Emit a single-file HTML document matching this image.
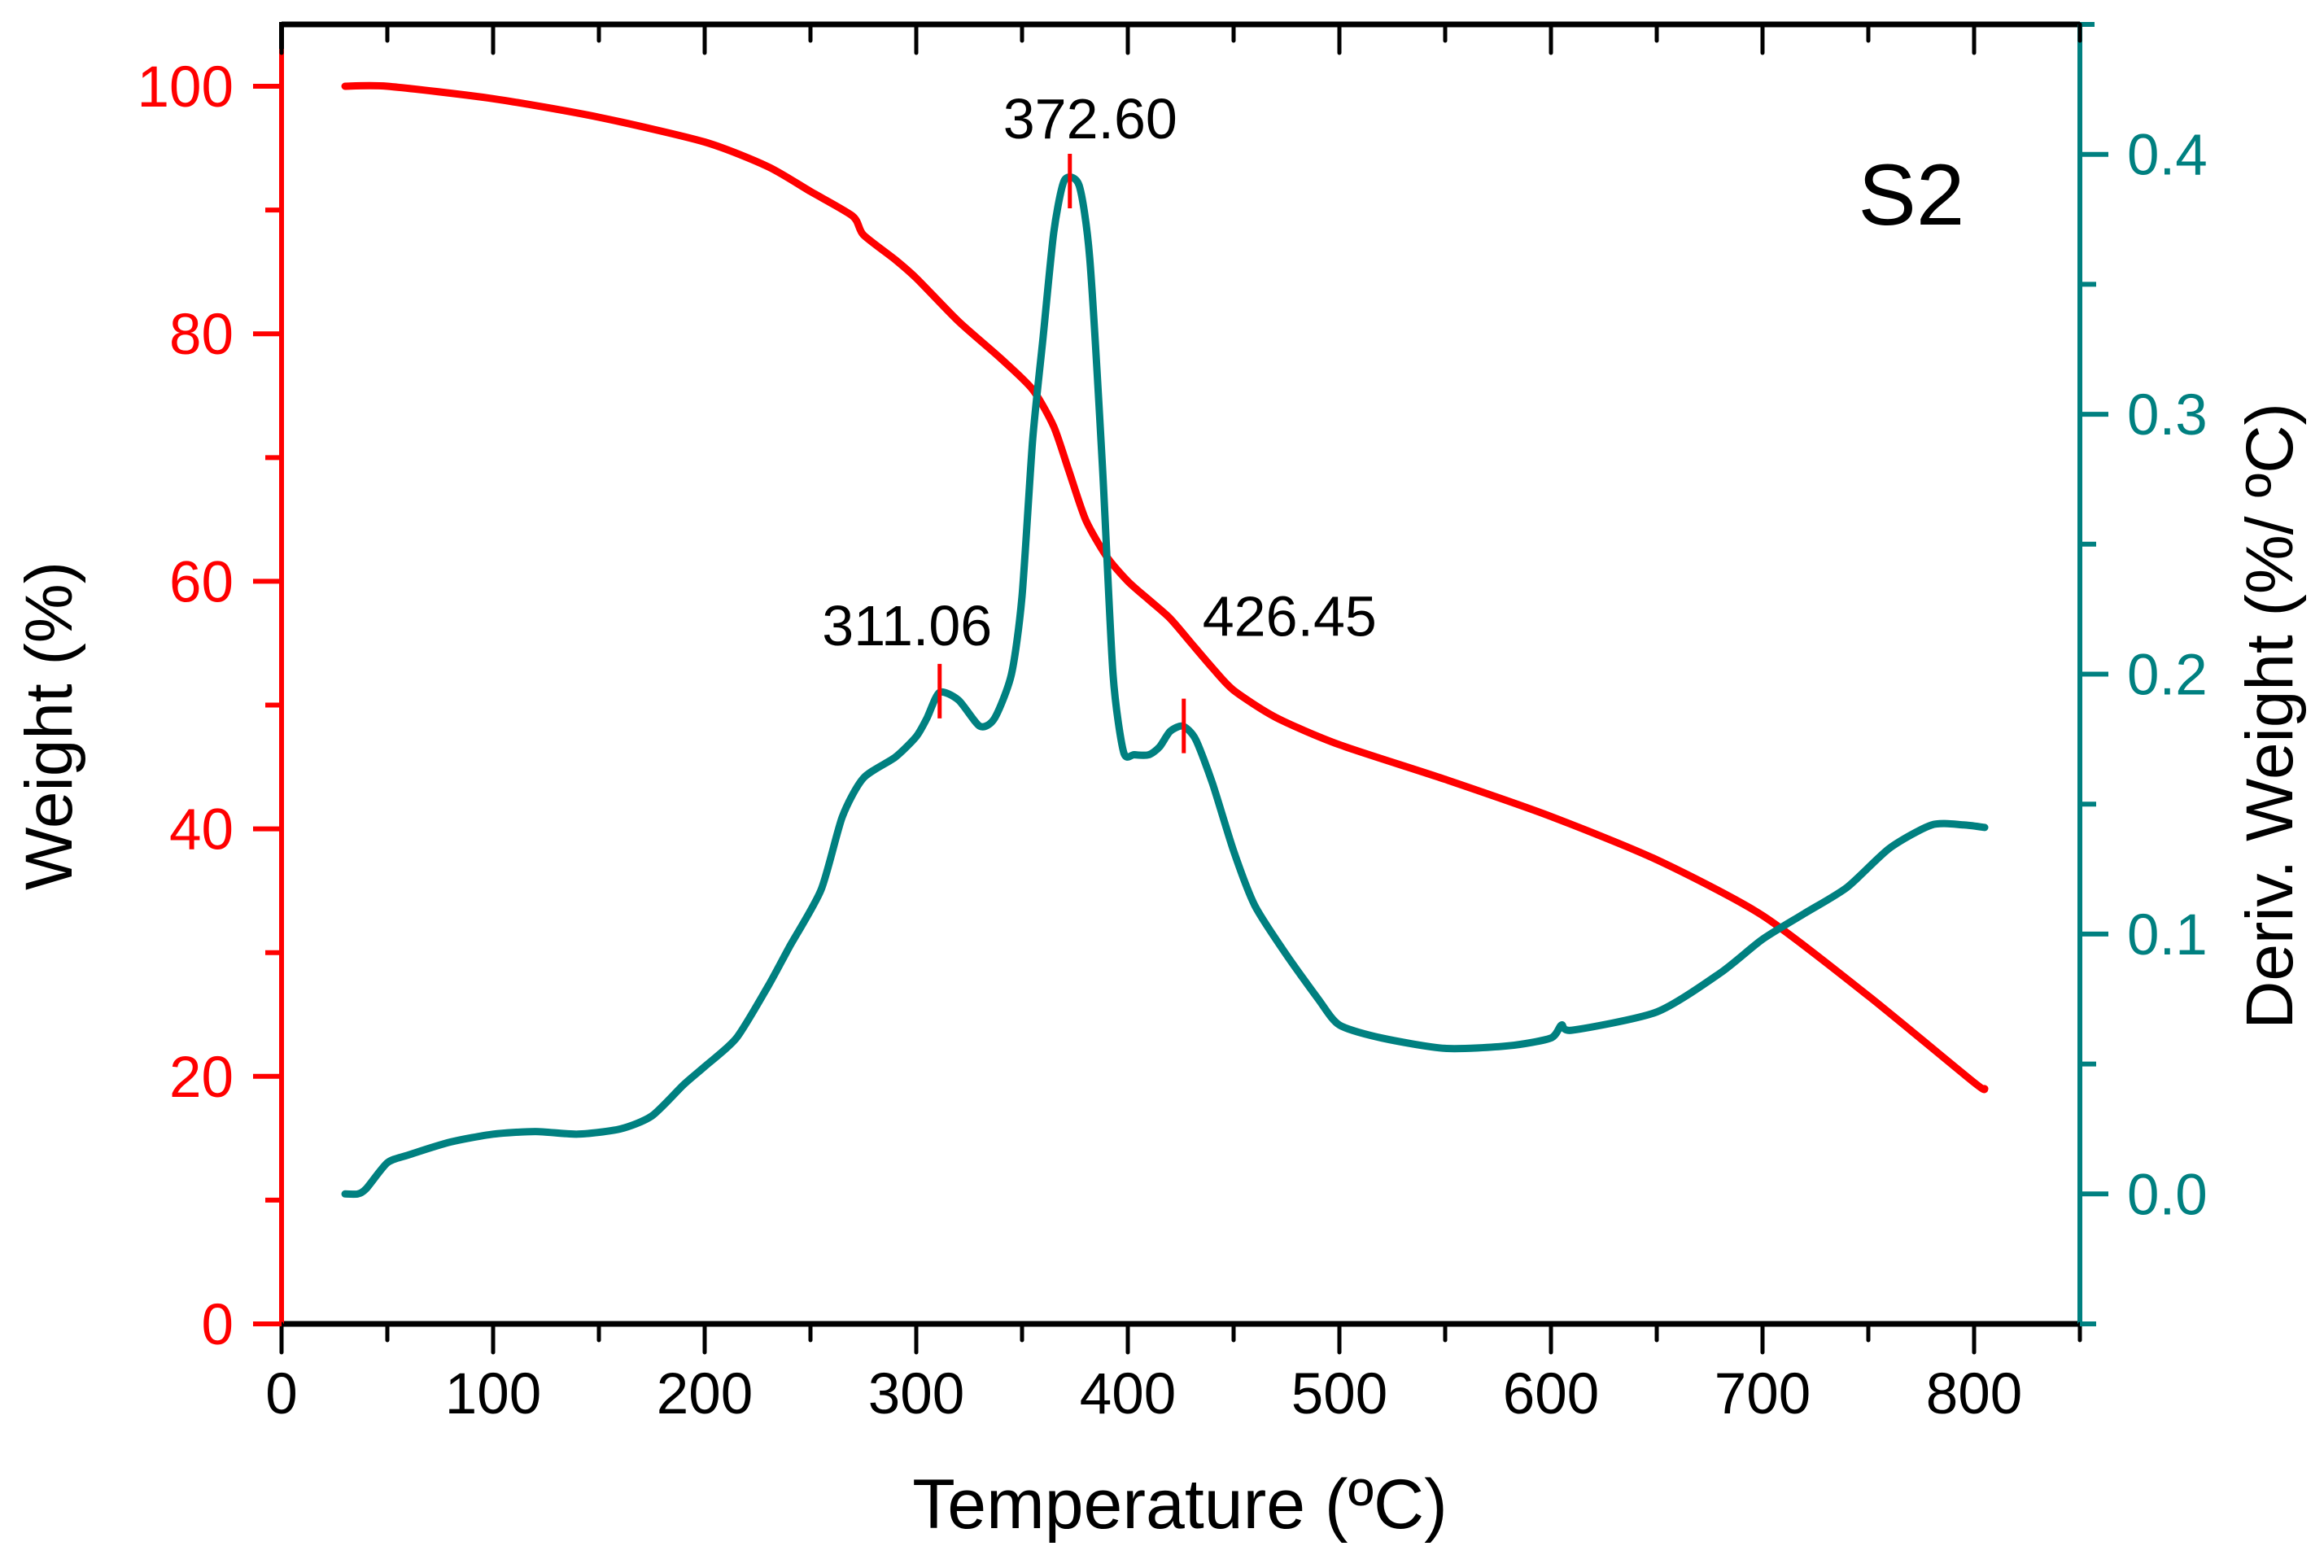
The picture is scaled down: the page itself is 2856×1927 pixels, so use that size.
<!DOCTYPE html>
<html><head><meta charset="utf-8"><style>
html,body{margin:0;padding:0;background:#fff;}
svg{display:block;font-family:"Liberation Sans",Arial,sans-serif;}
</style></head><body>
<svg id="chart" width="2856" height="1927" viewBox="0 0 2856 1927" xmlns="http://www.w3.org/2000/svg">
<g id="marks"></g>
<g id="axes"></g>
<text x="1450" y="1878" font-size="86" text-anchor="middle" fill="#000">Temperature (ºC)</text>
<text transform="translate(88,892) rotate(-90)" font-size="82" text-anchor="middle" fill="#000">Weight (%)</text>
<text transform="translate(2817,880) rotate(-90)" font-size="82" text-anchor="middle" fill="#000">Deriv. Weight (%/ ºC)</text>
<text x="2349" y="276" font-size="107" text-anchor="middle" fill="#000">S2</text>
</svg>
<script>
const xTicks=[0,100,200,300,400,500,600,700,800];
const wTicks=[0,20,40,60,80,100];
const dTicks=[0.0,0.1,0.2,0.3,0.4];
const wTemp=[30,50,100,150,200,230,250,270,275,290,300,320,340,355,365,372,380,390,400,410,420,430,440,450,470,500,550,600,650,700,750,800,805];
const wVal=[100,100,99,97.5,95.5,93.5,91.5,89.5,88,86,84.5,81,78,75.5,72.5,69,65,62,60,58.5,57,55,53,51.2,49,46.8,44,41,37.5,33,26.5,19.5,19];
const dTemp=[30,36,40,50,60,80,100,120,140,160,175,190,200,215,230,240,255,265,275,290,300,305,311,320,330,337,345,350,355,360,365,370,377,382,388,393,398,403,410,415,420,426,432,440,450,460,475,490,500,520,550,580,600,605,610,650,680,700,720,740,760,780,795,805];
const dVal=[0,0,0.002,0.012,0.015,0.02,0.023,0.024,0.023,0.025,0.03,0.042,0.049,0.06,0.08,0.095,0.117,0.145,0.16,0.168,0.176,0.183,0.193,0.19,0.18,0.183,0.2,0.23,0.29,0.33,0.37,0.39,0.388,0.36,0.28,0.2,0.17,0.169,0.169,0.172,0.178,0.18,0.175,0.158,0.132,0.111,0.092,0.075,0.065,0.06,0.056,0.057,0.06,0.065,0.063,0.07,0.085,0.098,0.108,0.118,0.133,0.142,0.142,0.141];
const peakTemps=[311.06,372.60,426.45];
const peakLabels=["311.06","372.60","426.45"];

const L=346,R=2556,T=30,B=1627;
const X=t=>L+(t-0)/850*(R-L);
const YW=v=>B-(v-0)/105*(B-T);
const YD=v=>B-(v+0.05)/0.5*(B-T);
const NS="http://www.w3.org/2000/svg";
function mk(tag,attrs,parent){const e=document.createElementNS(NS,tag);for(const k in attrs)e.setAttribute(k,attrs[k]);parent.appendChild(e);return e;}
const marks=document.getElementById('marks'),axes=document.getElementById('axes');
function smooth(pts){let d='M'+pts[0][0].toFixed(1)+','+pts[0][1].toFixed(1);const k=0.12;
  for(let i=0;i<pts.length-1;i++){const p0=pts[Math.max(i-1,0)],p1=pts[i],p2=pts[i+1],p3=pts[Math.min(i+2,pts.length-1)];
    const c1=[p1[0]+(p2[0]-p0[0])*k,p1[1]+(p2[1]-p0[1])*k],c2=[p2[0]-(p3[0]-p1[0])*k,p2[1]-(p3[1]-p1[1])*k];
    d+='C'+c1.map(v=>v.toFixed(1)).join(',')+' '+c2.map(v=>v.toFixed(1)).join(',')+' '+p2[0].toFixed(1)+','+p2[1].toFixed(1);}
  return d;}

const wl=mk('path',{d:smooth(wTemp.map((t,i)=>[X(t),YW(wVal[i])])),fill:'none',stroke:'#ff0000','stroke-width':9,'stroke-linejoin':'round','stroke-linecap':'round'},marks);


const dl=mk('path',{d:smooth(dTemp.map((t,i)=>[X(t),YD(dVal[i])])),fill:'none',stroke:'#008080','stroke-width':9,'stroke-linejoin':'round','stroke-linecap':'round'},marks);



function interp(t){for(let i=1;i<dTemp.length;i++){if(t<=dTemp[i]){const f=(t-dTemp[i-1])/(dTemp[i]-dTemp[i-1]);return dVal[i-1]+f*(dVal[i]-dVal[i-1]);}}return dVal[dVal.length-1];}
const labOff=[[-40,-58],[25,-54],[130,-112]];
peakTemps.forEach((t,i)=>{
  const y=YD(Math.min(interp(t),0.39));
  const m=mk('line',{x1:X(t),x2:X(t),y1:y-35,y2:y+32,stroke:'#ff0000','stroke-width':5},marks);
  
  
  const tx=mk('text',{x:X(t)+labOff[i][0],y:y+labOff[i][1],'font-size':70,'text-anchor':'middle',fill:'#000'},marks);
  tx.textContent=peakLabels[i];
  
  
});

const fr=mk('path',{d:`M${L},${B}H${R}M${L},${T}H${R}`,stroke:'#000','stroke-width':7,fill:'none'},axes);


const la=mk('line',{x1:L,x2:L,y1:T+30,y2:B,stroke:'#ff0000','stroke-width':6},axes);


mk('line',{x1:L,x2:L,y1:T-3,y2:T+30,stroke:'#000','stroke-width':6},axes);
const ra=mk('line',{x1:R,x2:R,y1:T,y2:B,stroke:'#008080','stroke-width':6},axes);


mk('line',{x1:R,x2:R+18,y1:T,y2:T,stroke:'#008080','stroke-width':6},axes);

for(let t=0;t<=850;t+=50){
  const maj=t%100===0, len=maj?35:20;
  mk('line',{x1:X(t),x2:X(t),y1:B,y2:B+len,stroke:'#000','stroke-width':5,'stroke-linecap':'round'},axes);
  mk('line',{x1:X(t),x2:X(t),y1:T,y2:T+len,stroke:'#000','stroke-width':5,'stroke-linecap':'round'},axes);
}
xTicks.forEach(t=>{const e=mk('text',{x:X(t),y:1737,'font-size':71,'text-anchor':'middle',fill:'#000'},axes);e.textContent=String(t);
  
  });
for(let v=0;v<=100;v+=10){
  const len=v%20===0?35:20;
  mk('line',{x1:L-len,x2:L,y1:YW(v),y2:YW(v),stroke:'#ff0000','stroke-width':6},axes);
}
wTicks.forEach(v=>{const e=mk('text',{x:287,y:YW(v)+25,'font-size':71,'text-anchor':'end',fill:'#ff0000'},axes);e.textContent=String(v);
  
  });
for(let k=-1;k<=8;k++){
  const v=k*0.05, len=(k%2===0)?35:20;
  mk('line',{x1:R,x2:R+len,y1:YD(v),y2:YD(v),stroke:'#008080','stroke-width':6},axes);
}
dTicks.forEach(v=>{const e=mk('text',{x:2614,y:YD(v)+25,'font-size':71,'text-anchor':'start',fill:'#008080'},axes);e.textContent=v.toFixed(1);
  
  });
</script>
</body></html>
